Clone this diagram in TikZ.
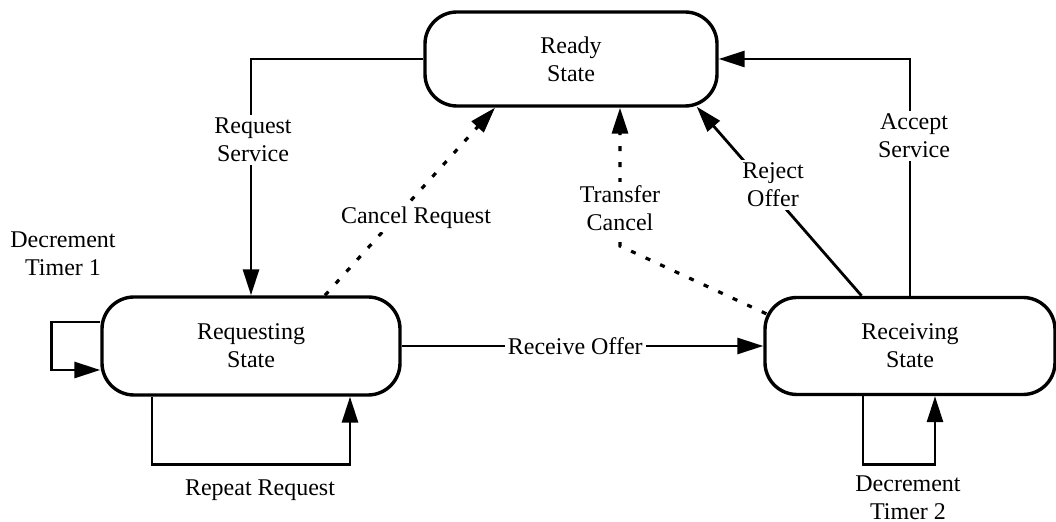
\documentclass[tikz,border=0pt]{standalone}
\usepackage{fontspec}
\setmainfont{Liberation Serif}
\usetikzlibrary{arrows.meta,calc}
\begin{document}
\begin{tikzpicture}[x=0.5pt,y=-0.5pt,
  statebox/.style={draw,line width=1.7pt,rounded corners=16pt,align=center,
    font=\fontsize{12}{14}\selectfont,inner sep=0pt},
  lbl/.style={align=center,font=\fontsize{12}{14}\selectfont,fill=white,inner sep=1.5pt},
  conn/.style={line width=1.4pt},
  tip/.style={-{Triangle[length=13pt,width=8pt]}},
  arr/.style={conn,tip},
  dotline/.style={line width=1.6pt,dash pattern=on 2.5pt off 5.5pt,tip}
]
\useasboundingbox (0,0) rectangle (1056,522);
\fill[white] (0,0) rectangle (1056,522);

\node[statebox,minimum width=146pt,minimum height=47pt] (ready) at (571,59) {Ready\\State};
\node[statebox,minimum width=149pt,minimum height=49pt] (req) at (251,346) {Requesting\\State};
\node[statebox,minimum width=145pt,minimum height=48.5pt] (recv) at (910,346) {Receiving\\State};

% Request Service
\draw[arr] (ready.west) -| (req.north);
\node[lbl] (rsl) at (253,140) {Request\\Service};

% Accept Service
\draw[arr] (recv.north) |- (ready.east);
\node[lbl] (asl) at (914,136) {Accept\\Service};

% Reject Offer
\draw[arr] ($(recv.north west)!0.335!(recv.north east)$) -- ($(ready.south east)+(-22,-1)$);
\node[lbl] (rol) at (773,185) {Reject\\Offer};

% Cancel Request
\draw[dotline] ($(req.north)+(74,0)$) -- ($(ready.south)+(-76,0)$);
\node[lbl] (crl) at (416,218) {Cancel Request};

% Transfer Cancel
\coordinate (tcbend) at (620,246);
\draw[dotline] ($(recv.north west)+(3,18)$) -- (tcbend) -- (tcbend |- ready.south);
\node[lbl] (tcl) at (620,208) {Transfer\\Cancel};

% Receive Offer
\draw[arr] (req.east) -- (recv.west) node[lbl,pos=0.48] (rcl) {Receive Offer};

% Decrement Timer 1
\draw[arr] ($(req.west)+(0,-24)$) -- ++(-49,0) |- ($(req.west)+(0,24)$);
\node[align=center,font=\fontsize{12}{14}\selectfont] (dt1) at (63,254) {Decrement\\Timer 1};

% Repeat Request
\draw[arr] ($(req.south)+(-99,0)$) -- ++(0,68) -| ($(req.south)+(99,0)$);
\node[align=center,font=\fontsize{12}{14}\selectfont] (rrl) at (260,490) {Repeat Request};

% Decrement Timer 2
\draw[arr] ($(recv.south)+(-47,0)$) -- ++(0,68) -| ($(recv.south)+(25,0)$);
\node[align=center,font=\fontsize{12}{14}\selectfont] (dt2) at (908,498) {Decrement\\Timer 2};
\end{tikzpicture}
\end{document}
